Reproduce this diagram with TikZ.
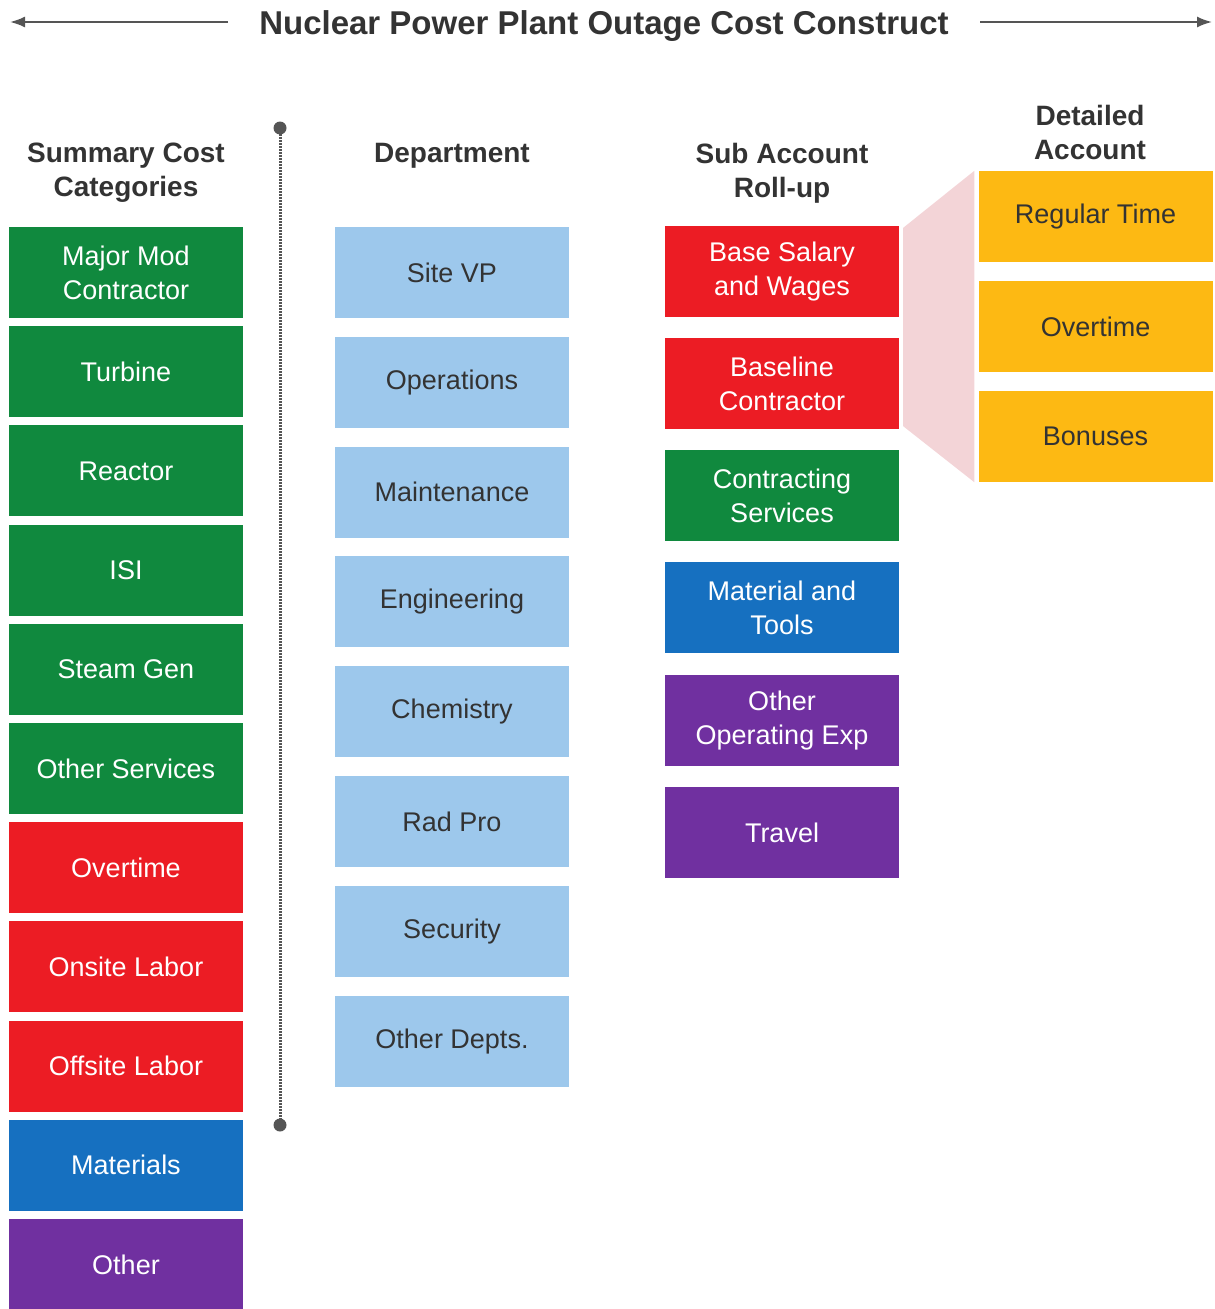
\documentclass[tikz,border=0pt]{standalone}
\usepackage{fontspec}
\setmainfont{Liberation Sans}
\usetikzlibrary{arrows.meta}
\definecolor{ccgreen}{RGB}{16,137,62}
\definecolor{ccred}{RGB}{236,28,36}
\definecolor{ccblue}{RGB}{22,112,192}
\definecolor{ccpurple}{RGB}{112,48,160}
\definecolor{cclight}{RGB}{157,200,236}
\definecolor{ccyellow}{RGB}{253,185,19}
\definecolor{ccpink}{RGB}{243,212,215}
\definecolor{cctext}{RGB}{51,51,51}
\definecolor{ccgray}{RGB}{85,85,85}

\begin{document}
\begin{tikzpicture}[x={(1pt,0pt)}, y={(0pt,-1pt)}, >={Latex[length=15pt,width=11pt]}]
 \tikzstyle{box} = [minimum width=234pt,minimum height=91pt,inner sep=0pt,align=center,text=white,font=\fontsize{27}{34}\selectfont]
 \tikzstyle{head} = [align=center,text=cctext,font=\fontsize{28}{34}\selectfont\bfseries]
 \tikzstyle{light} = [box,fill=cclight,text=cctext]
 \tikzstyle{gold} = [box,fill=ccyellow,text=cctext]
 \newcommand{\colA}{126}
 \newcommand{\colB}{452}
 \newcommand{\colC}{782}
 \newcommand{\colD}{1095.5}

 \useasboundingbox (0,0) rectangle (1215,1309);

 % Title and the two arrows
 \node[text=cctext,font=\fontsize{33}{38}\selectfont\bfseries] (title) at (604,26) {Nuclear Power Plant Outage Cost Construct};
 \coordinate (lstart) at (228,22);
 \coordinate (lend) at (10,22);
 \coordinate (rstart) at (980,22);
 \coordinate (rend) at (1212,22);
 \draw[->,ccgray,line width=2pt] (lstart) -- (lend);
 \draw[->,ccgray,line width=2pt] (rstart) -- (rend);

 % Column headings
 \node[head] (hsum) at (\colA,173) {Summary Cost\\Categories};
 \node[head] (hdep) at (\colB,156) {Department};
 \node[head] (hsub) at (\colC,173) {Sub Account\\Roll-up};
 \node[head] (hdet) at (1090,132) {Detailed\\Account};

 % Summary cost categories
 \node[box,fill=ccgreen] (mod) at (\colA,272.5) {Major Mod\\Contractor};
 \node[box,fill=ccgreen] (turb) at (\colA,371.7) {Turbine};
 \node[box,fill=ccgreen] (reac) at (\colA,470.9) {Reactor};
 \node[box,fill=ccgreen] (isi) at (\colA,570.1) {ISI};
 \node[box,fill=ccgreen] (steam) at (\colA,669.3) {Steam Gen};
 \node[box,fill=ccgreen] (serv) at (\colA,768.5) {Other Services};
 \node[box,fill=ccred] (over) at (\colA,867.7) {Overtime};
 \node[box,fill=ccred] (onsite) at (\colA,966.9) {Onsite Labor};
 \node[box,fill=ccred] (offsite) at (\colA,1066.1) {Offsite Labor};
 \node[box,fill=ccblue] (mat) at (\colA,1165.3) {Materials};
 \node[box,fill=ccpurple] (oth) at (\colA,1264.5) {Other};

 % Divider
 \coordinate (dtop) at (280,128);
 \coordinate (dbot) at (280,1125);
 \draw[ccgray,line width=3pt,dash pattern=on 2pt off 1pt] (dtop) -- (dbot);
 \fill[ccgray] (dtop) circle (6.5);
 \fill[ccgray] (dbot) circle (6.5);

 % Departments
 \node[light] (vp) at (\colB,272.5) {Site VP};
 \node[light] (ops) at (\colB,382.3) {Operations};
 \node[light] (mnt) at (\colB,492.1) {Maintenance};
 \node[light] (eng) at (\colB,601.9) {Engineering};
 \node[light] (chem) at (\colB,711.7) {Chemistry};
 \node[light] (rad) at (\colB,821.5) {Rad Pro};
 \node[light] (sec) at (\colB,931.3) {Security};
 \node[light] (depts) at (\colB,1041.1) {Other Depts.};

 % Sub accounts
 \node[box,fill=ccred] (base) at (\colC,271.5) {Base Salary\\and Wages};
 \node[box,fill=ccred] (baseline) at (\colC,383.5) {Baseline\\Contractor};
 \node[box,fill=ccgreen] (csvc) at (\colC,495.5) {Contracting\\Services};
 \node[box,fill=ccblue] (tools) at (\colC,607.5) {Material and\\Tools};
 \node[box,fill=ccpurple] (opex) at (\colC,720.5) {Other\\Operating Exp};
 \node[box,fill=ccpurple] (trav) at (\colC,832.5) {Travel};

 % Detailed accounts
 \node[gold] (reg) at (\colD,216.5) {Regular Time};
 \node[gold] (ot) at (\colD,326.5) {Overtime};
 \node[gold] (bon) at (\colD,436.5) {Bonuses};

 % Fan out from the salary rows
 \fill[ccpink] ([xshift=4pt,yshift=-2pt]base.north east) -- ([xshift=-4pt]reg.north west)
   -- ([xshift=-4pt]bon.south west) -- ([xshift=4pt,yshift=3pt]baseline.south east) -- cycle;

\end{tikzpicture}
\end{document}
